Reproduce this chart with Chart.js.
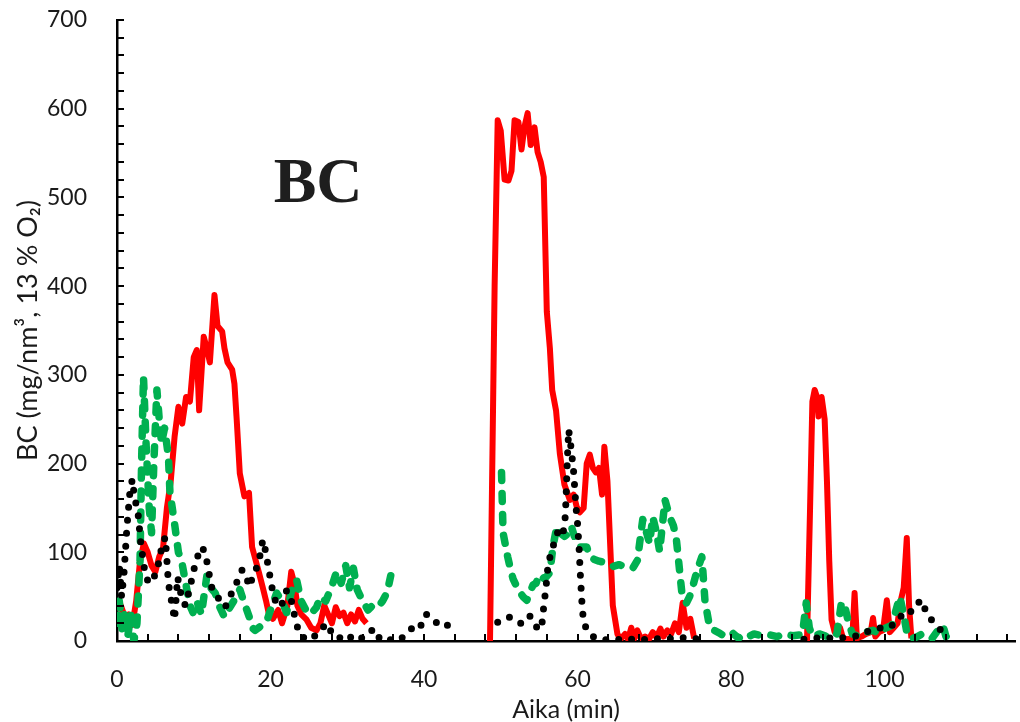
<!DOCTYPE html>
<html>
<head>
<meta charset="utf-8">
<script src="https://cdn.jsdelivr.net/npm/chart.js@4.4.0/dist/chart.umd.min.js"></script>
<style>
  html, body { margin: 0; padding: 0; background: #fff; overflow: hidden; }
  #wrap { width: 1020px; height: 722px; }
</style>
</head>
<body>
<div id="wrap"><canvas id="c"></canvas></div>
<script>
// BC emission over time, three runs: red solid, green dashed, black dotted.
// null marks a gap in a series.

const xTicks = [0, 4, 8, 12, 16, 20, 24, 28, 32, 36, 40, 44, 48, 52, 56, 60, 64, 68, 72, 76, 80, 84, 88, 92, 96, 100, 104, 108, 112, 116];
const yTicks = [0, 20, 40, 60, 80, 100, 120, 140, 160, 180, 200, 220, 240, 260, 280, 300, 320, 340, 360, 380, 400, 420, 440, 460, 480, 500, 520, 540, 560, 580, 600, 620, 640, 660, 680, 700];

const redX = [0, 0.5, 1, 1.5, 2, 2.5, 3, 3.5, 4, 4.5, 5, 5.5, 6, 6.5, 7, 7.5, 8, 8.5, 9, 9.5,
  10, 10.4, 10.7, 11.3, 11.7, 12.1, 12.7, 13.1, 13.7, 14, 14.4, 15, 15.3, 15.6, 16, 16.6, 17.2, 17.6, 18.5, 19,
  19.4, 19.8, 20.3, 21, 21.5, 22.2, 22.7, 23.1, 23.5, 24, 24.7, 25.3, 26, 26.5, 27, 27.5, 28, 28.5, 29, 29.5,
  30, 30.5, 31, 31.5, 32, 32.5,
  40,
  48.6, 49.2, 49.6, 50, 50.5, 51, 51.4, 51.8, 52.3, 52.7, 53.1, 53.5, 53.9, 54.4, 54.8, 55.2, 55.6, 56, 56.4, 56.7,
  57.2, 57.7, 58.3, 59, 59.5, 59.9, 60.3, 60.8, 61.2, 61.6, 62, 62.4, 62.8, 63.2, 63.5, 63.9, 64.3,
  64.6, 65.2, 65.6, 66.2, 66.6, 67, 67.4, 67.8, 68.3, 68.8, 69.3, 69.8, 70.3, 70.8, 71.2, 71.7, 72.2, 72.7, 73.2, 73.7,
  74.2, 74.7, 75.2,
  82,
  89.9, 90.3, 90.6, 90.9, 91.2, 91.4, 91.8, 92.2, 92.5, 92.8, 93.1, 93.5, 94.2, 94.6, 95.2, 95.8, 96.1, 96.4, 97, 97.6,
  98.2, 98.5, 98.8, 99.3, 99.8, 100.3, 100.7, 101.2, 101.7, 102.1, 102.5, 102.9, 103.2, 103.5];
const redY = [35, 40, 28, 30, 18, 45, 90, 110, 100, 85, 78, 95, 105, 150, 180, 230, 264, 245, 275, 270,
  320, 328, 260, 343, 330, 314, 390, 355, 349, 330, 314, 306, 290, 249, 189, 163, 167, 106, 77, 60,
  46, 30, 25, 35, 20, 40, 78, 65, 40, 30, 24, 15, 12, 20, 40, 30, 20, 38, 28, 32,
  20, 30, 22, 35, 25, 20,
  null,
  0, 400, 587, 575, 520, 519, 530, 587, 585, 554, 580, 595, 559, 579, 551, 540, 523, 371, 330, 283,
  260, 211, 176, 159, 165, 151, 145, 150, 200, 210, 195, 190, 195, 165, 219, 180, 100,
  40, 8, 2, 8, 2, 15, 3, 12, 2, 5, 2, 10, 4, 14, 5, 12, 8, 20, 10, 43,
  15, 25, 3,
  null,
  0, 150, 270, 283, 275, 253, 275, 250, 180, 90, 24, 10, 15, 3, 2, 3, 54, 3, 5, 8,
  10, 26, 5, 10, 12, 46, 10, 15, 20, 45, 60, 116, 40, 3];

const greenX = [0, 0.3, 0.7, 1, 1.4, 1.8, 2.2, 2.6, 3, 3.2, 3.45, 3.8, 4.2, 4.5, 4.8, 5.2, 5.5, 5.8, 6.2, 6.7,
  6.9, 7.2, 7.55, 8, 8.4, 9.1, 9.5, 9.9, 10.4, 11, 11.7, 12.2, 12.8, 13.3, 14, 14.5, 15.2, 16, 16.5, 17.2,
  17.6, 18, 18.6, 19.5, 20, 20.8, 21.5, 22.1, 22.7, 23.4, 24, 24.6, 25.2, 26, 26.5, 27.2, 28, 28.6, 29.2, 29.8,
  30.3, 30.8, 31.3, 32, 32.7, 33.3, 34, 34.6, 35.2, 35.7, 35.9,
  43,
  50.1, 50.3, 50.9, 51.3, 51.6, 52.1, 52.5, 52.9, 53.4, 53.8, 54.2, 54.6, 55, 55.7, 56.4, 56.8, 57.3, 57.7, 58.3, 59,
  59.2, 59.7, 60.3, 61.2, 61.6, 62.2, 62.8, 63.8, 64.6, 65.4, 66.2, 67.2, 67.8, 68.5, 69, 69.4, 69.8, 70.3, 70.7, 71.4,
  72, 72.5, 72.9, 73.6, 74.2, 74.6, 75, 75.6, 76.2, 76.6, 77.2, 77.8, 78.5, 79.2, 80.2, 81, 81.5, 82.3, 83, 84,
  85, 86, 87, 88, 89.3, 89.8, 90.2, 90.6, 91.5, 92.5, 93.2, 93.8, 94.4, 94.8, 95.2, 95.8, 96.7, 97.6, 98.5, 99.3,
  100, 101, 101.5, 102, 102.6, 103, 103.7, 104.3, 104.9, 105.4, 106.2, 107.2, 107.6, 108, 108.9];
const greenY = [20, 45, 10, 35, 5, 30, 0, 20, 90, 200, 298, 220, 150, 122, 200, 283, 250, 223, 240, 208,
  167, 150, 129, 100, 91, 58, 40, 32, 45, 30, 73, 60, 54, 40, 27, 35, 45, 58, 45, 28,
  15, 12, 16, 22, 35, 54, 45, 32, 55, 69, 45, 35, 30, 38, 50, 45, 62, 78, 65, 85,
  60, 82, 58, 45, 35, 40, 38, 45, 55, 75, 85,
  null,
  190, 122, 95, 80, 70, 61, 55, 50, 46, 55, 63, 65, 75, 70, 77, 106, 129, 122, 118, 122,
  129, 115, 106, 106, 95, 92, 90, 88, 84, 86, 84, 82, 91, 137, 122, 110, 140, 122, 101, 159,
  140, 130, 113, 54, 43, 50, 61, 80, 95, 46, 16, 12, 9, 5, 9, 3, 7, 5, 8, 6,
  7, 5, 8, 6, 7, 43, 15, 5, 8, 5, 10, 8, 44, 40, 25, 8, 5, 10, 12, 8,
  14, 18, 35, 50, 25, 5, 3, 5, 8, 5, 3, 15, 18, 5, 12];

const blackX = [0, 0.3, 0.6, 0.9, 1.3, 1.7, 2, 2.3, 2.7, 3.1, 3.6, 4.1, 4.6, 5, 5.5, 5.9, 6.3, 6.7, 7, 7.5,
  7.9, 8.4, 8.9, 9.5, 10, 10.5, 11, 11.5, 11.9, 12.4, 13, 13.6, 14.1, 14.7, 15.3, 15.8, 16.3, 16.8, 17.2, 17.6,
  18.1, 18.6, 19, 19.4, 19.7, 20.2, 20.6, 21.2, 21.7, 22.1, 22.6, 23.1, 23.5, 24, 24.6, 25.2, 25.7, 26.2, 26.8, 27.3,
  27.8, 28.3, 28.8, 29.4, 30, 30.6, 31.2, 31.8, 32.4, 33, 33.4, 34, 34.7, 35.4, 36.2, 37, 37.7, 38.4, 39, 39.5,
  39.9, 40.4, 41, 41.7, 42.3, 42.9, 43.4,
  46,
  49.6, 50.2, 50.7, 51.2, 51.7, 52.2, 52.8, 53.3, 53.8, 54.3, 54.8, 55.3, 55.5, 55.7, 55.9, 56.1, 56.5, 57.1, 57.5, 58.1,
  58.4, 58.5, 58.6, 58.7, 58.85, 59.2, 59.5, 59.8, 60, 60.2, 60.4, 60.6, 60.8, 61.5, 62.3, 63.2, 64, 65, 66, 67,
  68, 69, 70, 71, 72, 73, 74, 75, 76, 77,
  83,
  89.5, 90.5, 92, 93.5, 95, 96.5, 97.6, 98.4, 99.2, 100.2, 100.8, 101.5, 102, 102.5, 102.9, 103.5, 104.2, 104.6, 105, 105.4,
  106, 106.5, 107, 107.6, 108];
const blackY = [60, 85, 50, 75, 129, 170, 182, 160, 148, 110, 80, 65, 69, 75, 90, 110, 117, 65, 50, 24,
  72, 50, 40, 60, 80, 95, 106, 100, 80, 58, 50, 45, 38, 50, 60, 70, 80, 75, 61, 70,
  80, 95, 114, 100, 84, 60, 46, 38, 45, 57, 50, 30, 16, 5, 3, 7, 5, 10, 15, 20,
  12, 5, 3, 5, 8, 3, 6, 3, 5, 10, 14, 5, 0, 2, 0, 2, 10, 14, 16, 14,
  28, 30, 27, 20, 16, 18, 17,
  null,
  21, 22, 25, 27, 24, 22, 19, 24, 28, 18, 15, 13, 31, 46, 61, 80, 99, 114, 125, 120,
  140, 159, 185, 210, 238, 215, 190, 151, 133, 106, 69, 40, 20, 9, 3, 2, 1, 2, 1, 2,
  1, 2, 3, 2, 3, 2, 4, 3, 2, 1,
  null,
  2, 3, 4, 3, 4, 6, 10, 13, 15, 14, 17, 20, 27, 30, 35, 33, 38, 46, 44, 32,
  25, 20, 16, 9, 5];

const pts = (xs, ys) => xs.map((x, i) => ({ x, y: ys[i] }));

// Excel-style ticks pointing into the plot, plus the big "BC" caption
const insideTicks = {
  id: 'insideTicks',
  afterDraw(chart) {
    const { ctx, chartArea: a, scales: { x, y } } = chart;
    ctx.save();
    ctx.strokeStyle = '#000';
    ctx.lineWidth = 2;
    ctx.beginPath();
    for (const t of x.ticks) {
      const px = Math.round(x.getPixelForValue(t.value));
      ctx.moveTo(px, a.bottom);
      ctx.lineTo(px, a.bottom - 7);
    }
    for (const t of y.ticks) {
      const py = Math.round(y.getPixelForValue(t.value));
      ctx.moveTo(a.left, py);
      ctx.lineTo(a.left + 7, py);
    }
    ctx.stroke();
    ctx.fillStyle = '#1e1e1e';
    ctx.font = 'bold 64px "Liberation Serif"';
    ctx.textAlign = 'center';
    ctx.textBaseline = 'middle';
    ctx.fillText('BC', x.getPixelForValue(26.2), y.getPixelForValue(514));
    ctx.restore();
  }
};

new Chart(document.getElementById('c'), {
  type: 'line',
  data: {
    datasets: [
      {
        data: pts(blackX, blackY),
        borderColor: '#000000',
        borderWidth: 7,
        borderDash: [0, 13],
        borderCapStyle: 'round',
        borderJoinStyle: 'round'
      },
      {
        data: pts(greenX, greenY),
        borderColor: '#00B050',
        borderWidth: 7.5,
        borderDash: [8, 13],
        borderCapStyle: 'round',
        borderJoinStyle: 'round'
      },
      {
        data: pts(redX, redY),
        borderColor: '#FF0000',
        borderWidth: 6,
        borderJoinStyle: 'round'
      }
    ]
  },
  options: {
    responsive: true,
    maintainAspectRatio: false,
    animation: false,
    spanGaps: false,
    layout: { padding: 0 },
    elements: { point: { radius: 0 }, line: { tension: 0 } },
    plugins: { legend: { display: false }, tooltip: { enabled: false } },
    scales: {
      x: {
        type: 'linear',
        min: 0,
        max: 117,
        afterBuildTicks: s => { s.ticks = xTicks.map(v => ({ value: v })); },
        afterFit: s => { s.height = 81; s.paddingLeft = 0; s.paddingRight = 5; },
        grid: { display: false },
        border: { color: '#000', width: 2.5 },
        ticks: {
          autoSkip: false,
          maxRotation: 0,
          padding: 17,
          color: '#1a1a1a',
          font: { family: 'Lato', size: 23 },
          callback: v => (v % 20 === 0 ? v : '')
        },
        title: {
          display: true,
          text: 'Aika (min)',
          color: '#1a1a1a',
          font: { family: 'Lato', size: 25 },
          padding: { top: 0, bottom: -3 }
        }
      },
      y: {
        min: 0,
        max: 700,
        afterBuildTicks: s => { s.ticks = yTicks.map(v => ({ value: v })); },
        afterFit: s => { s.width = 117; s.paddingTop = 20; s.paddingBottom = 0; },
        grid: { display: false },
        border: { color: '#000', width: 2.5 },
        ticks: {
          autoSkip: false,
          padding: 22,
          color: '#1a1a1a',
          font: { family: 'Lato', size: 23 },
          callback: v => (v % 100 === 0 ? v : '')
        },
        title: {
          display: true,
          text: 'BC (mg/nm³, 13 % O₂)',
          color: '#1a1a1a',
          font: { family: 'Lato', size: 27 },
          padding: { top: 12, bottom: 0 }
        }
      }
    }
  },
  plugins: [insideTicks]
});
</script>
</body>
</html>
